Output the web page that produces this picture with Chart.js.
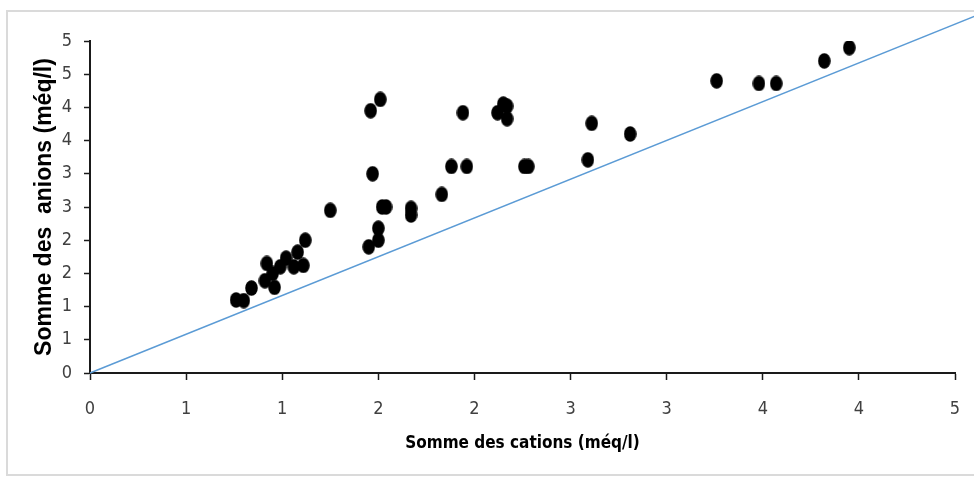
<!DOCTYPE html>
<html lang="fr">
<head>
<meta charset="utf-8">
<title>Somme des anions vs somme des cations</title>
<script src="https://cdn.jsdelivr.net/npm/chart.js@4.4.1/dist/chart.umd.min.js"></script>
<style>
  html, body { margin: 0; padding: 0; background: #ffffff; }
  #wrap { position: relative; width: 974px; height: 489px; overflow: hidden; }
  #frame {
    position: absolute; left: 6px; top: 10px; width: 1000px; height: 466px;
    border: 2px solid #dadada; box-sizing: border-box;
  }
  #c { position: absolute; left: 0; top: 0; }
</style>
</head>
<body>
<div id="wrap">
  <div id="frame"></div>
  <canvas id="c" width="974" height="489"></canvas>
</div>
<script>
// Somme des cations (méq/l) for each sample
const cations = [0.76, 0.80, 0.84, 0.91, 0.92, 0.96, 0.95, 0.99, 1.02, 1.06, 1.08, 1.11, 1.12,
                 1.25, 1.45, 1.50, 1.50, 1.46, 1.51, 1.47, 1.52, 1.54, 1.67, 1.67, 1.83, 1.88,
                 1.94, 1.96, 2.12, 2.15, 2.17, 2.17, 2.26, 2.28, 2.59, 2.61, 2.81, 3.26, 3.48,
                 3.57, 3.82, 3.95];
// Somme des anions (méq/l) for the same samples
const anions  = [1.10, 1.09, 1.28, 1.39, 1.65, 1.29, 1.50, 1.60, 1.73, 1.60, 1.82, 1.62, 2.00,
                 2.45, 1.90, 2.00, 2.18, 3.95, 4.12, 3.00, 2.50, 2.50, 2.38, 2.48, 2.69, 3.11,
                 3.92, 3.11, 3.92, 4.05, 4.02, 3.83, 3.11, 3.11, 3.21, 3.76, 3.60, 4.40, 4.36,
                 4.36, 4.70, 4.90];
// Reference line endpoints (cations, anions)
const refLineX = [0, 4.60];
const refLineY = [0, 5.37];
// Axis tick labels (values rounded to whole numbers)
const xTickLabels = ['0', '1', '1', '2', '2', '3', '3', '4', '4', '5'];
const yTickLabels = ['0', '1', '1', '2', '2', '3', '3', '4', '4', '5', '5'];

// Oval marker
function ovalMarker(w, h) {
  const cv = document.createElement('canvas');
  cv.width = w; cv.height = h;
  const g = cv.getContext('2d');
  g.fillStyle = '#000000';
  g.beginPath();
  g.ellipse(w / 2, h / 2, w / 2 - 0.2, h / 2 - 0.2, 0, 0, Math.PI * 2);
  g.fill();
  return cv;
}
const marker = ovalMarker(13, 16);

const points = cations.map((x, i) => ({ x: x, y: anions[i] }));
const refLine = refLineX.map((x, i) => ({ x: x, y: refLineY[i] }));

const condensed = "'Liberation Sans Narrow', 'DejaVu Sans Condensed', 'Liberation Sans', sans-serif";
const tickFont = { family: condensed, size: 18 };

new Chart(document.getElementById('c'), {
  type: 'scatter',
  data: {
    datasets: [
      {
        label: 'Échantillons',
        data: points,
        pointStyle: marker,
        pointRadius: 7,
        pointHoverRadius: 7,
        order: 0
      },
      {
        label: 'Droite',
        type: 'line',
        data: refLine,
        borderColor: '#5b9bd5',
        borderWidth: 1.5,
        pointRadius: 0,
        fill: false,
        clip: false,
        order: 1
      }
    ]
  },
  options: {
    responsive: false,
    animation: false,
    devicePixelRatio: 1,
    layout: { padding: { left: 0, top: 41, right: 19, bottom: 0 } },
    plugins: {
      legend: { display: false },
      tooltip: { enabled: false }
    },
    scales: {
      x: {
        type: 'linear',
        min: 0,
        max: 4.5,
        afterFit: s => { s.height = 116; s.paddingLeft = 0; s.paddingRight = 0; },
        border: { color: '#1a1a1a', width: 2 },
        grid: { drawOnChartArea: false, drawTicks: true, tickLength: 7, tickColor: '#1a1a1a', tickWidth: 1.5 },
        ticks: {
          stepSize: 0.5,
          autoSkip: false,
          maxRotation: 0,
          padding: 19,
          color: '#404040',
          font: tickFont,
          callback: (v, i) => xTickLabels[i]
        },
        title: {
          display: true,
          text: 'Somme des cations (méq/l)',
          color: '#000000',
          font: { family: condensed, size: 17, weight: 'bold' },
          padding: { top: 0, bottom: 35 }
        }
      },
      y: {
        type: 'linear',
        min: 0,
        max: 5,
        afterFit: s => { s.width = 90; s.paddingTop = 0; s.paddingBottom = 0; },
        border: { color: '#1a1a1a', width: 2 },
        grid: { drawOnChartArea: false, drawTicks: true, tickLength: 6, tickColor: '#1a1a1a', tickWidth: 1.5 },
        ticks: {
          stepSize: 0.5,
          autoSkip: false,
          padding: 12,
          color: '#404040',
          font: tickFont,
          callback: (v, i) => yTickLabels[i]
        },
        title: {
          display: true,
          text: 'Somme des  anions (méq/l)',
          color: '#000000',
          font: { family: "'Liberation Sans', Arial, sans-serif", size: 23, weight: 'bold' },
          padding: { top: 31, bottom: 0 }
        }
      }
    }
  }
});
</script>
</body>
</html>
